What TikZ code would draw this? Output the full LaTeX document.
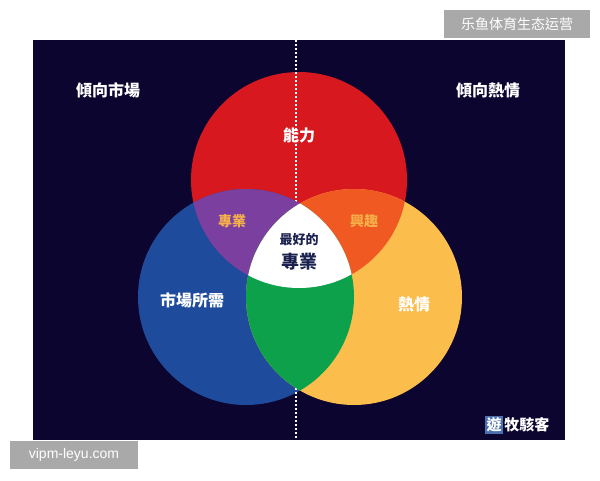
\documentclass[tikz,border=0pt]{standalone}
\usepackage{fontspec}
\newfontfamily\cjk{Noto Sans CJK TC}
\setmainfont{Liberation Sans}
\definecolor{bg}{HTML}{0B0530}
\definecolor{cred}{HTML}{D7191F}
\definecolor{cblue}{HTML}{1E4B9B}
\definecolor{cyel}{HTML}{FBBD4C}
\definecolor{cpur}{HTML}{7B3FA0}
\definecolor{corg}{HTML}{F05A22}
\definecolor{cgrn}{HTML}{0CA14A}
\definecolor{ctxt}{HTML}{F6B04A}
\definecolor{cnavy}{HTML}{1C2250}
\definecolor{cgray}{HTML}{A9A9A9}
\begin{document}
\begin{tikzpicture}[x=1pt,y=-1pt,
  lbl/.style={font=\cjk\bfseries\fontsize{16}{18}\selectfont,text=white},
  sub/.style={font=\cjk\bfseries\fontsize{14}{16}\selectfont,text=ctxt}]
\useasboundingbox (0,0) rectangle (600,480);
\fill[white] (0,0) rectangle (600,480);
\fill[bg] (33,40) rectangle (565,440);
\coordinate (R) at (299,180);
\coordinate (B) at (246,297);
\coordinate (Y) at (354,297);
\def\rr{108}
\fill[cred] (R) circle (\rr);
\fill[cblue] (B) circle (\rr);
\fill[cyel] (Y) circle (\rr);
\coordinate (top) at (296,40);
\coordinate (bot) at (296,440);
\draw[white,line width=1.6pt,dash pattern=on 1.6pt off 2.4pt] (top) -- (bot);
\begin{scope}\clip (R) circle (\rr); \fill[cpur] (B) circle (\rr); \end{scope}
\begin{scope}\clip (R) circle (\rr); \fill[corg] (Y) circle (\rr); \end{scope}
\begin{scope}\clip (B) circle (\rr); \fill[cgrn] (Y) circle (\rr); \end{scope}
\begin{scope}\clip (R) circle (\rr); \clip (B) circle (\rr); \fill[white] (Y) circle (\rr); \end{scope}
\node[lbl] (l1) at (108,90) {傾向市場};
\node[lbl] (l2) at (488,90) {傾向熱情};
\node[lbl] (nl) at (299,135) {能力};
\node[sub] (zy) at (232,221) {專業};
\node[sub] (xq) at (364,221) {興趣};
\node[font=\cjk\bfseries\fontsize{13}{15}\selectfont,text=cnavy] (zh) at (299,240) {最好的};
\node[font=\cjk\bfseries\fontsize{18}{20}\selectfont,text=cnavy] (zy2) at (299,262) {專業};
\node[lbl] (sc) at (192,300) {市場所需};
\node[lbl] (rq) at (414,304) {熱情};
\node[fill=cblue!80!white,text=white,font=\cjk\bfseries\fontsize{15}{17}\selectfont,inner sep=1.5pt] (you) at (494,425) {遊};
\node[anchor=west,text=white,font=\cjk\bfseries\fontsize{15}{17}\selectfont,inner sep=1pt] (mk) at (you.east) {牧駭客};
\node[fill=cgray,text=white,font=\cjk\fontsize{14}{16}\selectfont,minimum width=146pt,minimum height=28pt] (wm1) at (517,24) {乐鱼体育生态运营};
\node[fill=cgray,text=white,font=\fontsize{14}{16}\selectfont,minimum width=128pt,minimum height=28pt] (wm2) at (74,455) {vipm-leyu.com};
\end{tikzpicture}
\end{document}
